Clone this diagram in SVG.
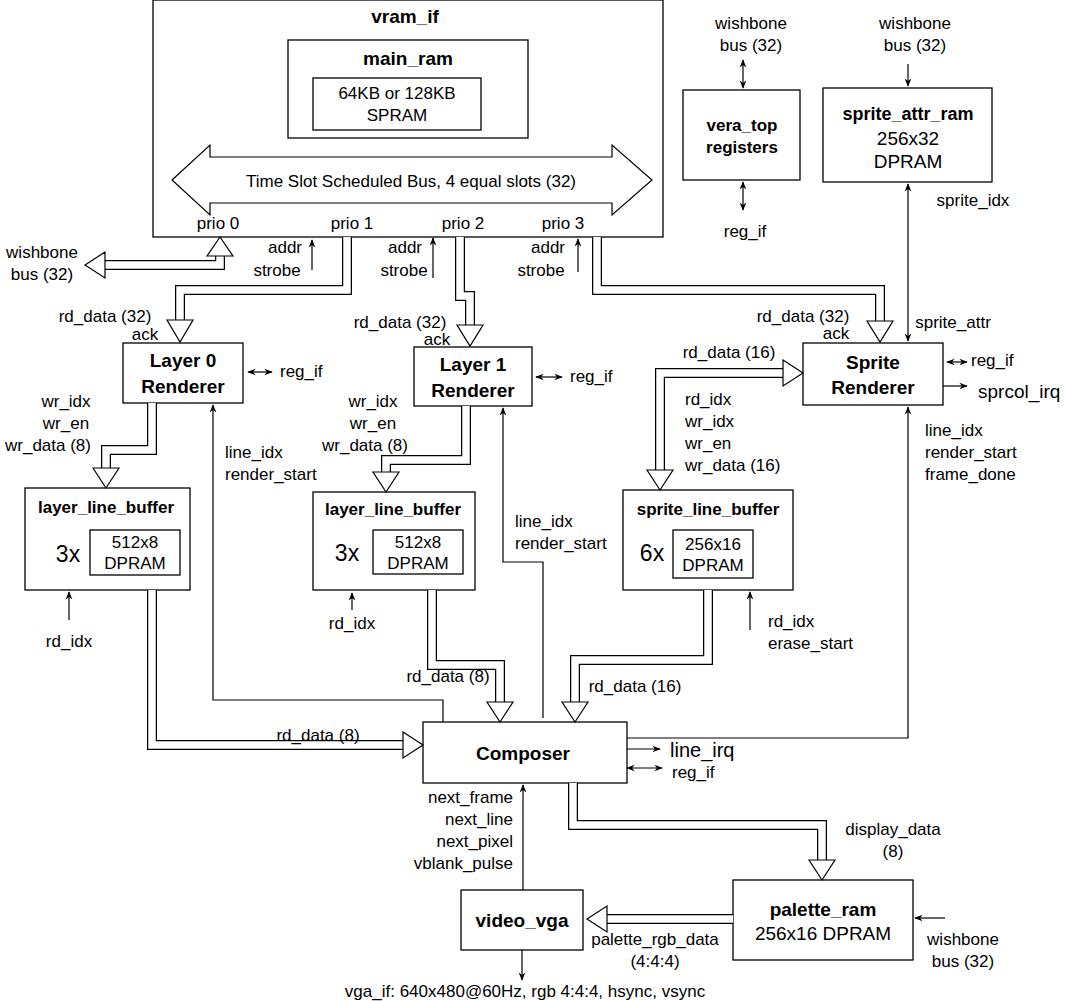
<svg xmlns="http://www.w3.org/2000/svg" width="1066" height="1001" viewBox="0 0 1066 1001">
<defs>
<marker id="a" viewBox="0 0 10 10" refX="9" refY="5" markerWidth="7" markerHeight="7" orient="auto-start-reverse"><path d="M0,1 L10,5 L0,9 L3,5 z" fill="#000"/></marker>
<style>
text{font-family:"Liberation Sans",Arial,sans-serif;font-size:17px;fill:#000}
.b{font-weight:bold;font-size:19px;text-anchor:middle}
.t{font-size:17.5px}
.m{text-anchor:middle}
.e{text-anchor:end}
.L{font-size:19px}
.box{fill:#fff;stroke:#000;stroke-width:1.3}
.bo{fill:none;stroke:#000;stroke-width:10}
.bi{fill:none;stroke:#fff;stroke-width:7.5}
.h{fill:#fff;stroke:#000;stroke-width:1.2}
.ar{fill:none;stroke:#000;stroke-width:1.2;marker-end:url(#a)}
.ar2{fill:none;stroke:#000;stroke-width:1.2;marker-end:url(#a);marker-start:url(#a)}
</style>
</defs>
<g id="vram_if">
<rect class="box" x="153" y="0" width="510" height="237"/>
<text class="b" x="405" y="23">vram_if</text>
<g id="main_ram"><rect class="box" x="288" y="40" width="240" height="98"/>
<text class="b" x="408" y="65">main_ram</text>
<rect class="box" x="313" y="78" width="168" height="52"/>
<text class="m" x="397" y="99">64KB or 128KB</text><text class="m" x="397" y="121">SPRAM</text></g>
<polygon class="h" points="172,180 210,145 210,157 612,157 612,145 652,180 612,215 612,203 210,203 210,215"/>
<text class="m" x="411" y="187">Time Slot Scheduled Bus, 4 equal slots (32)</text>
<text class="m" x="218" y="229">prio 0</text><text class="m" x="352" y="229">prio 1</text>
<text class="m" x="463" y="229">prio 2</text><text class="m" x="563" y="229">prio 3</text>
</g>
<g id="vera_top"><rect class="box" x="683" y="90" width="117" height="90"/>
<text class="b" x="742" y="131" style="font-size:17px">vera_top</text><text class="b" x="742" y="153" style="font-size:17px">registers</text></g>
<g id="sprite_attr_ram"><rect class="box" x="823" y="88" width="169" height="94"/>
<text class="b" x="908" y="120" style="font-size:18px">sprite_attr_ram</text><text class="m L" x="908" y="145">256x32</text><text class="m L" x="908" y="168">DPRAM</text></g>
<g id="layer0"><rect class="box" x="123" y="343" width="120" height="60"/>
<text class="b" x="183" y="367">Layer 0</text><text class="b" x="183" y="393">Renderer</text></g>
<g id="layer1"><rect class="box" x="414" y="347" width="118" height="59"/>
<text class="b" x="473" y="371">Layer 1</text><text class="b" x="473" y="397">Renderer</text></g>
<g id="sprite"><rect class="box" x="803" y="343" width="140" height="62"/>
<text class="b" x="873" y="369">Sprite</text><text class="b" x="873" y="394">Renderer</text></g>
<g id="llb0"><rect class="box" x="25" y="488" width="165" height="102"/>
<text class="b" x="106" y="513" style="font-size:17px">layer_line_buffer</text><text class="m" x="68" y="562" style="font-size:23px">3x</text>
<rect class="box" x="90" y="530" width="90" height="45"/><text class="m" x="135" y="548">512x8</text><text class="m" x="135" y="569">DPRAM</text></g>
<g id="llb1"><rect class="box" x="313" y="492" width="162" height="98"/>
<text class="b" x="393" y="515" style="font-size:17px">layer_line_buffer</text><text class="m" x="347" y="561" style="font-size:23px">3x</text>
<rect class="box" x="373" y="530" width="90" height="44"/><text class="m" x="418" y="548">512x8</text><text class="m" x="418" y="569">DPRAM</text></g>
<g id="slb"><rect class="box" x="623" y="490" width="170" height="100"/>
<text class="b" x="708" y="515" style="font-size:17px">sprite_line_buffer</text><text class="m" x="652" y="561" style="font-size:23px">6x</text>
<rect class="box" x="673" y="530" width="80" height="48"/><text class="m" x="713" y="550">256x16</text><text class="m" x="713" y="571">DPRAM</text></g>
<g id="composer"><rect class="box" x="423" y="722" width="204" height="61"/><text class="b" x="523" y="760">Composer</text></g>
<g id="palette"><rect class="box" x="733" y="880" width="180" height="80"/>
<text class="b" x="823" y="916">palette_ram</text><text class="m L" x="823" y="940">256x16 DPRAM</text></g>
<g id="vga"><rect class="box" x="461" y="890" width="122" height="60"/><text class="b" x="522" y="927">video_vga</text></g>
<g id="connectors">
<path class="bo" d="M220,256 V265 H105"/><path class="bi" d="M220,256 V265 H105"/>
<polygon class="h" points="220,237 233,256 207,256"/><polygon class="h" points="85,265 105,252 105,278"/>
<path class="bo" d="M347,237 V290 H180 V320"/><path class="bi" d="M347,237 V290 H180 V320"/><polygon class="h" points="167,320 193,320 180,342"/>
<path class="bo" d="M460,237 V296 H470 V325"/><path class="bi" d="M460,237 V296 H470 V325"/><polygon class="h" points="457,325 483,325 470,346"/>
<path class="bo" d="M597,237 V290 H880 V321"/><path class="bi" d="M597,237 V290 H880 V321"/><polygon class="h" points="867,321 893,321 880,342"/>
<path class="bo" d="M152,403 V450 H106 V468"/><path class="bi" d="M152,403 V450 H106 V468"/><polygon class="h" points="93,468 119,468 106,488"/>
<path class="bo" d="M466,406 V460 H386 V472"/><path class="bi" d="M466,406 V460 H386 V472"/><polygon class="h" points="373,472 399,472 386,492"/>
<path class="bo" d="M783,373 H660 V470"/><path class="bi" d="M783,373 H660 V470"/><polygon class="h" points="783,360 803,373 783,386"/><polygon class="h" points="647,470 673,470 660,490"/>
<path class="bo" d="M152,590 V745 H403"/><path class="bi" d="M152,590 V745 H403"/><polygon class="h" points="403,732 423,745 403,758"/>
<path class="bo" d="M432,590 V665 H500 V702"/><path class="bi" d="M432,590 V665 H500 V702"/><polygon class="h" points="487,702 513,702 500,722"/>
<path class="bo" d="M708,590 V660 H575 V702"/><path class="bi" d="M708,590 V660 H575 V702"/><polygon class="h" points="562,702 588,702 575,722"/>
<path class="bo" d="M573,783 V825 H822 V860"/><path class="bi" d="M573,783 V825 H822 V860"/><polygon class="h" points="809,860 835,860 822,880"/>
<path class="bo" d="M733,919 H607"/><path class="bi" d="M733,919 H607"/><polygon class="h" points="587,919 607,906 607,932"/>
<path class="ar" d="M312,270 V240"/><path class="ar" d="M433,278 V238"/><path class="ar" d="M578,272 V239"/>
<path class="ar2" d="M248,372 H272"/><path class="ar2" d="M536,377 H562"/>
<path class="ar2" d="M947,362 H967"/><path class="ar" d="M943,386 H967"/>
<path class="ar2" d="M743,60 V88"/><path class="ar2" d="M743,182 V210"/>
<path class="ar" d="M908,64 V86"/><path class="ar2" d="M908,184 V341"/>
<path class="ar" d="M69,620 V592"/><path class="ar" d="M352,610 V593"/><path class="ar" d="M750,630 V592"/>
<path class="ar" d="M443,722 V700 H213 V405"/>
<path class="ar" d="M543,718 V562 H503 V408"/>
<path class="ar" d="M627,738 H908 V407"/>
<path class="ar" d="M627,749 H660"/><path class="ar2" d="M627,768 H662"/>
<path class="ar" d="M523,890 V785"/>
<path class="ar" d="M945,918 H915"/>
<path class="ar" d="M522,950 V980"/>
</g>
<g id="labels">
<text class="m" x="42" y="258">wishbone</text><text class="m" x="42" y="280">bus (32)</text>
<text class="m" x="285" y="253">addr</text><text class="m" x="277" y="276">strobe</text>
<text class="m" x="405" y="253">addr</text><text class="m" x="404" y="276">strobe</text>
<text class="m" x="548" y="253">addr</text><text class="m" x="541" y="276">strobe</text>
<text class="m" x="105" y="322">rd_data (32)</text><text class="m" x="145" y="340">ack</text>
<text class="m" x="400" y="328">rd_data (32)</text><text class="m" x="437" y="345">ack</text>
<text class="m" x="803" y="322">rd_data (32)</text><text class="m" x="836" y="339">ack</text>
<text class="m" x="751" y="29">wishbone</text><text class="m" x="751" y="51">bus (32)</text>
<text class="m" x="915" y="29">wishbone</text><text class="m" x="915" y="51">bus (32)</text>
<text class="m" x="745" y="237">reg_if</text><text class="m" x="973" y="206">sprite_idx</text><text class="m" x="953" y="328">sprite_attr</text>
<text x="280" y="377">reg_if</text><text x="570" y="382">reg_if</text><text x="971" y="366">reg_if</text>
<text x="978" y="398" style="font-size:19px">sprcol_irq</text>
<text class="m" x="66" y="407">wr_idx</text><text class="m" x="66" y="429">wr_en</text><text class="m" x="48" y="451">wr_data (8)</text>
<text class="m" x="373" y="407">wr_idx</text><text class="m" x="373" y="429">wr_en</text><text class="m" x="365" y="451">wr_data (8)</text>
<text class="m" x="729" y="358">rd_data (16)</text>
<text x="685" y="405">rd_idx</text><text x="685" y="427">wr_idx</text><text x="685" y="449">wr_en</text><text x="685" y="471">wr_data (16)</text>
<text x="225" y="458">line_idx</text><text x="225" y="480">render_start</text>
<text x="515" y="527">line_idx</text><text x="515" y="549">render_start</text>
<text x="925" y="436">line_idx</text><text x="925" y="458">render_start</text><text x="925" y="480">frame_done</text>
<text class="m" x="69" y="647">rd_idx</text><text class="m" x="352" y="629">rd_idx</text>
<text x="768" y="627">rd_idx</text><text x="768" y="649">erase_start</text>
<text class="m" x="448" y="682">rd_data (8)</text><text class="m" x="635" y="692">rd_data (16)</text><text class="m" x="318" y="741">rd_data (8)</text>
<text x="670" y="757" style="font-size:20px">line_irq</text><text x="672" y="778">reg_if</text>
<text class="e" x="513" y="803">next_frame</text><text class="e" x="513" y="825">next_line</text><text class="e" x="513" y="847">next_pixel</text><text class="e" x="513" y="869">vblank_pulse</text>
<text class="m" x="893" y="835">display_data</text><text class="m" x="893" y="857">(8)</text>
<text class="m" x="963" y="945">wishbone</text><text class="m" x="963" y="967">bus (32)</text>
<text class="m" x="655" y="945">palette_rgb_data</text><text class="m" x="655" y="967">(4:4:4)</text>
<text class="m" x="525" y="997">vga_if: 640x480@60Hz, rgb 4:4:4, hsync, vsync</text>
</g>
</svg>
